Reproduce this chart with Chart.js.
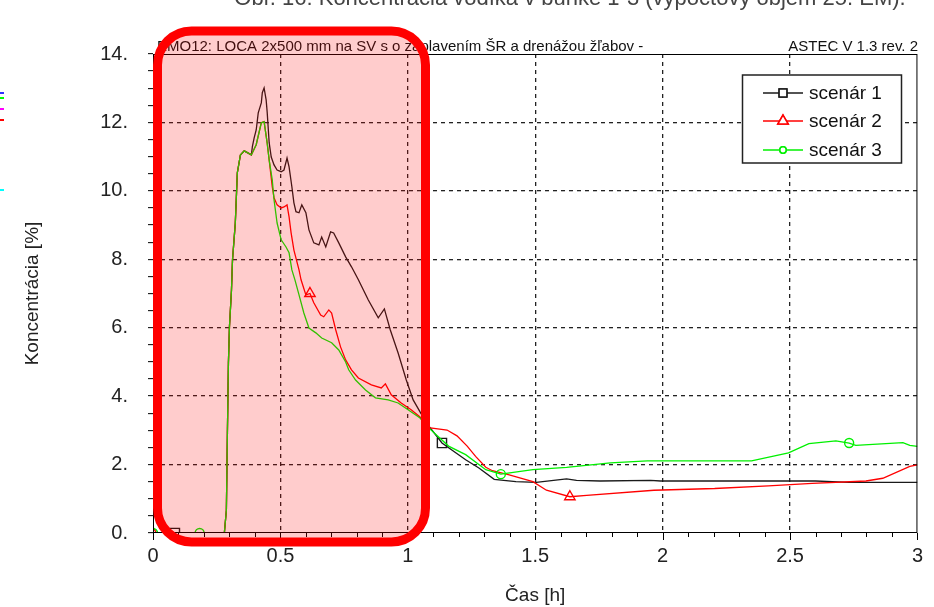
<!DOCTYPE html>
<html>
<head>
<meta charset="utf-8">
<script src="https://cdn.jsdelivr.net/npm/chart.js@4/dist/chart.umd.min.js"></script>
<style>
  html, body { margin: 0; padding: 0; background: #ffffff; }
  #wrap { width: 934px; height: 607px; position: relative; }
</style>
</head>
<body>
<div id="wrap"><canvas id="c" width="934" height="607"></canvas></div>
<script>
// ---------------- data ----------------
const seriesNames = ['scenár 1', 'scenár 2', 'scenár 3'];

const s1Time = [0, 0.086, 0.28, 0.288, 0.292, 0.296, 0.3, 0.308, 0.312, 0.323, 0.331, 0.343, 0.358, 0.386,
  0.39, 0.397, 0.405, 0.413, 0.425, 0.429, 0.436, 0.444, 0.448, 0.456, 0.464, 0.475, 0.487, 0.503, 0.514,
  0.526, 0.534, 0.545, 0.553, 0.561, 0.573, 0.584, 0.6, 0.612, 0.631, 0.651, 0.662, 0.678, 0.697, 0.709,
  0.729, 0.756, 0.779, 0.806, 0.845, 0.884, 0.908, 0.931, 0.962, 0.994, 1.021, 1.048, 1.079, 1.134,
  1.227, 1.279, 1.339, 1.424, 1.504, 1.623, 1.662, 1.755, 1.953, 1.992, 2.6, 2.732, 3.0];
const s1Conc = [0, 0, 0, 0.67, 2.92, 4.97, 6.02, 7.1, 7.98, 9.06, 10.53, 11.05, 11.17, 11.05,
  11.29, 11.55, 11.78, 12.28, 12.57, 12.87, 13.01, 12.66, 12.31, 11.4, 10.99, 10.76, 10.61, 10.56, 10.61,
  10.96, 10.7, 10.12, 9.65, 9.39, 9.36, 9.59, 9.36, 8.86, 8.48, 8.42, 8.65, 8.36, 8.8, 8.77,
  8.48, 8.07, 7.78, 7.4, 6.81, 6.29, 6.55, 5.94, 5.26, 4.47, 3.89, 3.54, 3.16, 2.63,
  2.14, 1.9, 1.57, 1.5, 1.48, 1.58, 1.54, 1.52, 1.54, 1.52, 1.52, 1.48, 1.48];
const s1Markers = [0.086, 1.134];

const s2Time = [0, 0.28, 0.288, 0.292, 0.296, 0.3, 0.308, 0.312, 0.323, 0.331, 0.343, 0.358, 0.386, 0.405,
  0.425, 0.436, 0.448, 0.456, 0.468, 0.475, 0.487, 0.503, 0.514, 0.526, 0.534, 0.542, 0.553, 0.573, 0.581,
  0.6, 0.616, 0.631, 0.658, 0.67, 0.69, 0.701, 0.717, 0.736, 0.756, 0.779, 0.806, 0.857, 0.896, 0.912,
  0.935, 0.974, 1.013, 1.048, 1.081, 1.154, 1.193, 1.233, 1.266, 1.306, 1.332, 1.398, 1.491, 1.544,
  1.636, 1.702, 1.966, 2.204, 2.415, 2.587, 2.798, 2.864, 2.97, 3.0];
const s2Conc = [0, 0, 0.67, 2.92, 4.97, 6.02, 7.1, 7.98, 9.06, 10.53, 11.05, 11.17, 11.05, 11.35,
  11.99, 12.02, 11.4, 10.9, 10.12, 9.8, 9.59, 9.5, 9.53, 9.59, 9.24, 8.77, 8.27, 7.69, 7.4,
  6.96, 7.0, 6.73, 6.37, 6.32, 6.52, 6.43, 5.94, 5.44, 5.06, 4.77, 4.53, 4.33, 4.24, 4.36,
  4.04, 3.8, 3.6, 3.39, 3.08, 3.01, 2.84, 2.54, 2.24, 1.92, 1.82, 1.7, 1.5, 1.25,
  1.06, 1.1, 1.25, 1.3, 1.38, 1.45, 1.52, 1.6, 1.95, 1.99];
const s2Markers = [0, 0.616, 1.636];

const s3Time = [0, 0.183, 0.28, 0.288, 0.292, 0.296, 0.3, 0.308, 0.312, 0.323, 0.331, 0.343, 0.358, 0.386,
  0.405, 0.425, 0.436, 0.448, 0.456, 0.468, 0.475, 0.487, 0.503, 0.522, 0.534, 0.545, 0.557, 0.573,
  0.592, 0.612, 0.639, 0.662, 0.701, 0.729, 0.756, 0.768, 0.795, 0.834, 0.873, 0.923, 0.962, 1.001,
  1.048, 1.081, 1.16, 1.227, 1.306, 1.365, 1.491, 1.623, 1.795, 1.94, 2.349, 2.494, 2.574, 2.68,
  2.732, 2.758, 2.943, 2.97, 3.0];
const s3Conc = [0, 0, 0, 0.67, 2.92, 4.97, 6.02, 7.1, 7.98, 9.06, 10.53, 11.05, 11.17, 11.05,
  11.35, 11.99, 12.02, 11.4, 10.9, 10.32, 9.74, 9.06, 8.57, 8.36, 8.19, 7.69, 7.4, 6.96,
  6.43, 5.99, 5.85, 5.7, 5.56, 5.35, 5.0, 4.77, 4.47, 4.18, 3.95, 3.89, 3.8, 3.6,
  3.36, 3.08, 2.54, 2.29, 1.85, 1.72, 1.85, 1.92, 2.05, 2.11, 2.11, 2.34, 2.61, 2.69,
  2.63, 2.56, 2.64, 2.56, 2.53];
const s3Markers = [0, 0.183, 1.365, 2.732];

const xTickLabels = [0, 0.5, 1, 1.5, 2, 2.5, 3];
const yTickLabels = [0, 2, 4, 6, 8, 10, 12, 14];

const chartTitle = 'Obr. 16: Koncentrácia vodíka v bunke 1-3 (výpočtový objem 25. EM).';
const subLeft = 'EMO12: LOCA 2x500 mm na SV s o zaplavením ŠR a drenážou žľabov -';
const subRight = 'ASTEC V 1.3 rev. 2';
const xTitle = 'Čas [h]';
const yTitle = 'Koncentrácia [%]';

// ---------------- styling ----------------
const SANS = '"Liberation Sans", Arial, sans-serif';
const colors = ['#1a1a1a', '#ff0000', '#00f000'];
const styles = ['rect', 'triangle', 'circle'];
const radii = [6.5, 6, 4.5];
const drawOrder = [3, 2, 1];
const markerSets = [s1Markers, s2Markers, s3Markers];
const near = (a, b) => Math.abs(a - b) < 1e-9;
const isMajorX = v => xTickLabels.some(t => near(t, v));
const isMajorY = v => yTickLabels.some(t => near(t, v));

function makeSet(i, times, vals) {
  return {
    label: seriesNames[i],
    order: drawOrder[i],
    data: times.map((t, k) => ({ x: t, y: vals[k] })),
    borderColor: colors[i],
    borderWidth: 1.3,
    tension: 0,
    fill: false,
    pointStyle: styles[i],
    pointBorderColor: colors[i],
    pointBackgroundColor: 'rgba(0,0,0,0)',
    pointBorderWidth: 1.4,
    pointHoverRadius: 0,
    pointRadius: ctx => {
      const p = ctx.raw;
      return p && markerSets[i].some(m => near(m, p.x)) ? radii[i] : 0;
    }
  };
}

const decor = {
  id: 'decor',
  afterDraw(chart) {
    const ctx = chart.ctx;
    const a = chart.chartArea;
    const xs = chart.scales.x;
    ctx.save();
    // frame
    ctx.strokeStyle = '#000';
    ctx.lineWidth = 1;
    ctx.strokeRect(a.left + 0.5, a.top + 0.5, a.right - a.left - 1, a.bottom - a.top - 1);
    // x tick marks (major longer)
    xs.ticks.forEach(tk => {
      const px = Math.round(xs.getPixelForValue(tk.value)) + 0.5;
      const len = isMajorX(tk.value) ? 7 : 4;
      ctx.beginPath();
      ctx.moveTo(px, a.bottom);
      ctx.lineTo(px, a.bottom + len);
      ctx.stroke();
    });
    // sub titles
    ctx.fillStyle = '#111';
    ctx.font = '15px ' + SANS;
    ctx.textBaseline = 'alphabetic';
    ctx.textAlign = 'left';
    ctx.fillText(subLeft, 157, 51, 506);
    ctx.textAlign = 'right';
    ctx.fillText(subRight, 918, 51);
    // legend
    const lx = 742.5, ly = 75, lw = 159, lh = 88;
    ctx.fillStyle = '#fff';
    ctx.fillRect(lx, ly, lw, lh);
    ctx.lineWidth = 1.5;
    ctx.strokeStyle = '#222';
    ctx.strokeRect(lx, ly, lw, lh);
    const rows = [93, 121, 150];
    const lrad = [5.5, 6, 3.2];
    seriesNames.forEach((name, i) => {
      const y = rows[i];
      ctx.strokeStyle = colors[i];
      ctx.lineWidth = 1.5;
      ctx.beginPath();
      ctx.moveTo(763, y);
      ctx.lineTo(803, y);
      ctx.stroke();
      ctx.fillStyle = '#fff';
      Chart.helpers.drawPoint(ctx, { pointStyle: styles[i], radius: lrad[i], rotation: 0, borderWidth: 1.4 }, 783, y);
      ctx.fill();
      ctx.stroke();
      ctx.fillStyle = '#111';
      ctx.font = '19px ' + SANS;
      ctx.textAlign = 'left';
      ctx.textBaseline = 'middle';
      ctx.fillText(name, 809, y + 1);
    });
    // left-edge remnants
    [['#3030ff', 92], ['#00ff00', 97], ['#ff00ff', 108], ['#ff0000', 119], ['#00ffff', 189]].forEach(([c, y]) => {
      ctx.fillStyle = c;
      ctx.fillRect(0, y, 4, 2);
    });
    // top title (cut off by the page edge)
    ctx.fillStyle = '#444';
    ctx.font = '22px ' + SANS;
    ctx.textAlign = 'center';
    ctx.textBaseline = 'alphabetic';
    ctx.fillText(chartTitle, 570, 5, 690);
    // highlight box
    const bx = 157.5, by = 31, bw = 425.5 - 157.5, bh = 542 - 31, r = 34;
    ctx.beginPath();
    ctx.moveTo(bx + r, by);
    ctx.lineTo(bx + bw - r, by);
    ctx.arcTo(bx + bw, by, bx + bw, by + r, r);
    ctx.lineTo(bx + bw, by + bh - r);
    ctx.arcTo(bx + bw, by + bh, bx + bw - r, by + bh, r);
    ctx.lineTo(bx + r, by + bh);
    ctx.arcTo(bx, by + bh, bx, by + bh - r, r);
    ctx.lineTo(bx, by + r);
    ctx.arcTo(bx, by, bx + r, by, r);
    ctx.closePath();
    ctx.fillStyle = 'rgba(255,0,0,0.2)';
    ctx.fill();
    ctx.lineWidth = 9;
    ctx.strokeStyle = '#ff0000';
    ctx.stroke();
    ctx.restore();
  }
};

new Chart(document.getElementById('c'), {
  type: 'line',
  data: {
    datasets: [makeSet(0, s1Time, s1Conc), makeSet(1, s2Time, s2Conc), makeSet(2, s3Time, s3Conc)]
  },
  options: {
    responsive: false,
    devicePixelRatio: 1,
    animation: false,
    events: [],
    layout: { padding: { top: 54, right: 11, bottom: 0, left: 0 } },
    plugins: { legend: { display: false }, tooltip: { enabled: false }, title: { display: false } },
    scales: {
      x: {
        type: 'linear',
        min: 0, max: 3,
        afterFit: s => { s.height = 74; },
        border: { display: false, dash: [4, 4] },
        grid: {
          drawTicks: false,
          lineWidth: 1.3,
          color: c => (c.tick && isMajorX(c.tick.value) && c.tick.value > 0 && c.tick.value < 3) ? '#222' : 'rgba(0,0,0,0)'
        },
        ticks: {
          stepSize: 0.1,
          autoSkip: false,
          maxRotation: 0,
          padding: 11,
          color: '#222',
          font: { family: SANS, size: 20 },
          callback: v => isMajorX(v) ? String(xTickLabels.find(t => near(t, v))) : ''
        },
        title: { display: true, text: xTitle, color: '#222', font: { family: SANS, size: 19 }, padding: { top: 0, bottom: 0 } }
      },
      y: {
        type: 'linear',
        min: 0, max: 14,
        afterFit: s => { s.width = 153; },
        border: { display: false, dash: [4, 4] },
        grid: {
          drawTicks: true,
          tickLength: 5,
          tickColor: '#000',
          tickWidth: 1,
          lineWidth: 1.3,
          color: c => (c.tick && isMajorY(c.tick.value) && c.tick.value > 0 && c.tick.value < 14) ? '#222' : 'rgba(0,0,0,0)'
        },
        ticks: {
          stepSize: 0.5,
          autoSkip: false,
          padding: 20,
          color: '#222',
          font: { family: SANS, size: 20 },
          callback: v => isMajorY(v) ? yTickLabels.find(t => near(t, v)) + '.' : ''
        },
        title: { display: true, text: yTitle, color: '#222', font: { family: SANS, size: 19 }, padding: { top: 21, bottom: 0 } }
      }
    }
  },
  plugins: [decor]
});
</script>
</body>
</html>
